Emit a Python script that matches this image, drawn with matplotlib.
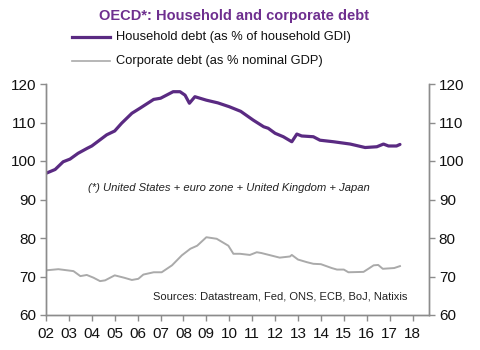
import matplotlib
matplotlib.use("Agg")
import matplotlib.pyplot as plt
from matplotlib.lines import Line2D

# household debt (% of household GDI)
hh_year = [2002.0, 2002.4, 2002.75, 2003.05, 2003.4, 2003.8, 2004.0, 2004.65, 2005.0,
           2005.3, 2005.75, 2006.1, 2006.7, 2007.0, 2007.55, 2007.85, 2008.07, 2008.26,
           2008.5, 2009.0, 2009.5, 2010.0, 2010.5, 2011.05, 2011.5, 2011.7, 2012.0,
           2012.36, 2012.73, 2012.95, 2013.16, 2013.67, 2013.96, 2014.55, 2015.28,
           2015.93, 2016.44, 2016.73, 2016.95, 2017.3, 2017.45]
hh_val = [96.8, 97.8, 99.8, 100.5, 102.0, 103.3, 103.9, 106.8, 107.8,
          109.8, 112.4, 113.7, 116.0, 116.3, 118.0, 118.0, 117.1, 115.0,
          116.7, 115.8, 115.1, 114.1, 112.9, 110.6, 108.9, 108.5, 107.2,
          106.3, 105.0, 107.0, 106.5, 106.3, 105.4, 105.0, 104.4,
          103.5, 103.7, 104.4, 103.9, 103.9, 104.3]

# corporate debt (% nominal GDP)
co_year = [2002.0, 2002.54, 2003.2, 2003.5, 2003.78, 2004.07, 2004.36, 2004.58, 2005.0,
           2005.4, 2005.75, 2006.03, 2006.25, 2006.7, 2007.05, 2007.5, 2007.93, 2008.3,
           2008.6, 2009.0, 2009.45, 2009.96, 2010.18, 2010.47, 2010.9, 2011.2, 2011.4,
           2012.2, 2012.65, 2012.73, 2013.0, 2013.4, 2013.67, 2014.0, 2014.47, 2014.7,
           2015.0, 2015.2, 2015.86, 2016.07, 2016.3, 2016.5, 2016.7, 2016.95, 2017.2,
           2017.45]
co_val = [71.6, 71.9, 71.4, 70.1, 70.4, 69.7, 68.8, 69.0, 70.3,
          69.7, 69.1, 69.4, 70.5, 71.1, 71.1, 72.9, 75.5, 77.2,
          78.0, 80.2, 79.8, 78.0, 75.9, 75.9, 75.6, 76.3, 76.1,
          74.9, 75.2, 75.6, 74.4, 73.7, 73.3, 73.2, 72.2, 71.8,
          71.8, 71.1, 71.2, 72.0, 72.9, 73.0, 72.0, 72.1, 72.2,
          72.7]

xticks = list(range(2002, 2019))
xlabels = ["%02d" % (y % 100) for y in xticks]
yticks = [60, 70, 80, 90, 100, 110, 120]

purple = "#5a2a82"
grey = "#aaaaaa"
spine_col = "#8c8c8c"

plt.rcParams["font.family"] = ["Liberation Sans", "DejaVu Sans"]

fig = plt.figure(figsize=(4.81, 3.5), dpi=100)
ax = fig.add_axes([0.0956, 0.1, 0.7964, 0.66])

ax.plot(hh_year, hh_val, color=purple, lw=2.3, solid_capstyle="round")
ax.plot(co_year, co_val, color=grey, lw=1.4)

ax.set_xlim(2002, 2018.72)
ax.set_ylim(60, 120)
ax.set_xticks(xticks)
ax.set_xticklabels(xlabels)
ax.set_yticks(yticks)

ax2 = ax.twinx()
ax2.set_ylim(60, 120)
ax2.set_yticks(yticks)

for a in (ax, ax2):
    a.spines["top"].set_visible(False)
    for s in ("left", "right", "bottom"):
        a.spines[s].set_color(spine_col)
        a.spines[s].set_linewidth(1.0)
    a.tick_params(colors=spine_col, labelcolor="#111111", labelsize=11,
                  length=4, width=1.0, direction="out", pad=3)
ax.tick_params(axis="x", pad=5)

fig.text(0.486, 0.975, "OECD*: Household and corporate debt", ha="center", va="top",
         color="#6e2f8f", fontsize=10.5, fontweight="bold")

fig.add_artist(Line2D([72 / 481, 110 / 481], [1 - 37 / 350] * 2, color=purple, lw=2.3))
fig.add_artist(Line2D([72 / 481, 110 / 481], [1 - 61 / 350] * 2, color=grey, lw=1.2))
fig.text(116 / 481, 1 - 37 / 350, "Household debt (as % of household GDI)", va="center",
         fontsize=9.25, color="#111111")
fig.text(116 / 481, 1 - 61 / 350, "Corporate debt (as % nominal GDP)", va="center",
         fontsize=9.25, color="#111111")

ax.text(2010.0, 93.0, "(*) United States + euro zone + United Kingdom + Japan",
        ha="center", va="center", fontsize=8.1, style="italic", color="#222222")
ax.text(2017.76, 64.7, "Sources: Datastream, Fed, ONS, ECB, BoJ, Natixis",
        ha="right", va="center", fontsize=8.0, color="#222222")

fig.savefig("out.png", dpi=100)
